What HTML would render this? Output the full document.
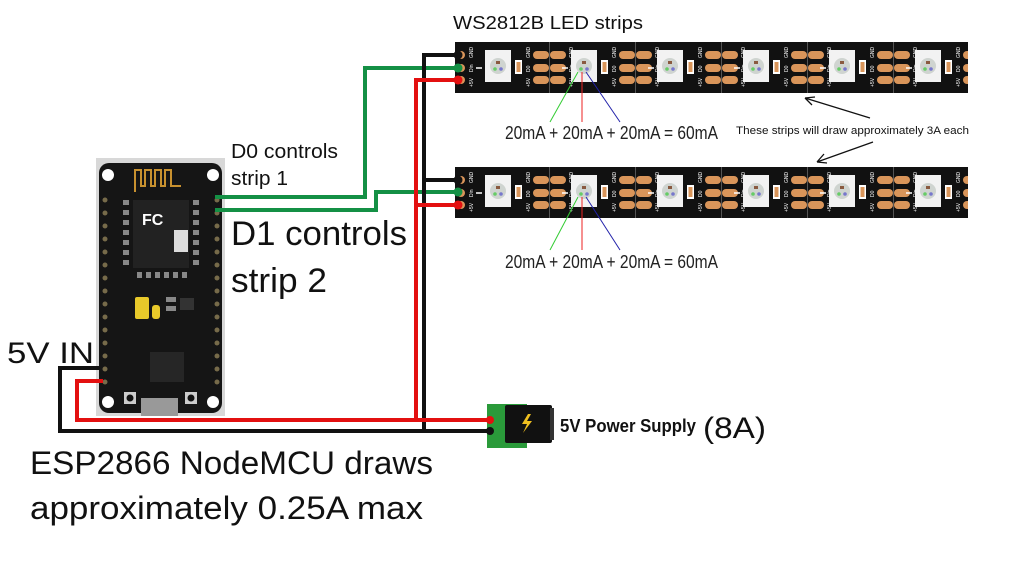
<!DOCTYPE html>
<html><head><meta charset="utf-8"><style>
body{margin:0;background:#fff;width:1009px;height:563px;overflow:hidden;font-family:"Liberation Sans",sans-serif}
</style></head><body>
<svg width="1009" height="563" xmlns="http://www.w3.org/2000/svg">
<defs>
<g id="seg">
  <rect x="30" y="8" width="26" height="32" fill="#f2f2f2"/>
  <circle cx="43" cy="24" r="8" fill="#cfd4d0"/>
  <rect x="41" y="19" width="4" height="3" fill="#8a5a40"/>
  <circle cx="40" cy="27" r="1.8" fill="#6c6"/><circle cx="46" cy="27" r="1.8" fill="#77c"/>
  <path d="M21 26 h6" stroke="#fff" stroke-width="1.5"/>
  <rect x="60" y="18" width="7" height="14" fill="#fff"/><rect x="61.5" y="20" width="4" height="10" fill="#d9955a"/>
  <text x="0" y="0" font-size="5" fill="#fff" transform="translate(75,16) rotate(-90)">GND</text>
  <text x="0" y="0" font-size="5" fill="#fff" transform="translate(75,30) rotate(-90)">D0</text>
  <text x="0" y="0" font-size="5" fill="#fff" transform="translate(75,45) rotate(-90)">+5V</text>
  <rect x="78" y="9" width="16" height="8" rx="4" fill="#d9955a"/>
  <rect x="78" y="22" width="16" height="8" rx="4" fill="#d9955a"/>
  <rect x="78" y="34" width="16" height="8" rx="4" fill="#d9955a"/>
  <rect x="95" y="9" width="16" height="8" rx="4" fill="#d9955a"/>
  <rect x="95" y="22" width="16" height="8" rx="4" fill="#d9955a"/>
  <rect x="95" y="34" width="16" height="8" rx="4" fill="#d9955a"/>
  <line x1="94.5" y1="0" x2="94.5" y2="51" stroke="#666" stroke-width="0.8"/>
  <text x="0" y="0" font-size="5" fill="#fff" transform="translate(118,16) rotate(-90)">GND</text>
  <text x="0" y="0" font-size="5" fill="#fff" transform="translate(118,30) rotate(-90)">Din</text>
  <text x="0" y="0" font-size="5" fill="#fff" transform="translate(118,45) rotate(-90)">+5V</text>
</g>
<g id="strip">
  <rect x="0" y="0" width="513" height="51" fill="#111"/>
  <circle cx="6" cy="13" r="4" fill="#d9955a"/><circle cx="6" cy="26" r="4" fill="#d9955a"/><circle cx="6" cy="38" r="4" fill="#d9955a"/>
  <text x="0" y="0" font-size="5" fill="#fff" transform="translate(18,16) rotate(-90)">GND</text>
  <text x="0" y="0" font-size="5" fill="#fff" transform="translate(18,30) rotate(-90)">Din</text>
  <text x="0" y="0" font-size="5" fill="#fff" transform="translate(18,45) rotate(-90)">+5V</text>
  <use href="#seg" x="0"/><use href="#seg" x="86"/><use href="#seg" x="172"/><use href="#seg" x="258"/><use href="#seg" x="344"/><use href="#seg" x="430"/>
</g>
</defs>

<text x="453" y="29" font-size="18" fill="#111" textLength="190" lengthAdjust="spacingAndGlyphs">WS2812B LED strips</text>
<use href="#strip" x="455" y="42"/>
<use href="#strip" x="455" y="167"/>
<rect x="968" y="40" width="41" height="180" fill="#fff"/>

<path d="M578 72 L550 122" stroke="#3c3" stroke-width="1"/><path d="M582 72 L582 122" stroke="#e22" stroke-width="1"/><path d="M586 72 L620 122" stroke="#22a" stroke-width="1"/>
<path d="M578 197 L550 250" stroke="#3c3" stroke-width="1"/><path d="M582 197 L582 250" stroke="#e22" stroke-width="1"/><path d="M586 197 L620 250" stroke="#22a" stroke-width="1"/>
<text x="505" y="139" font-size="18" fill="#222" textLength="213" lengthAdjust="spacingAndGlyphs">20mA + 20mA + 20mA = 60mA</text>
<text x="505" y="268" font-size="18" fill="#222" textLength="213" lengthAdjust="spacingAndGlyphs">20mA + 20mA + 20mA = 60mA</text>
<text x="736" y="134" font-size="11" fill="#111" textLength="233" lengthAdjust="spacingAndGlyphs">These strips will draw approximately 3A each</text>
<path d="M870 118 L805 98 M805 98 l10 -1 M805 98 l7 7" stroke="#111" stroke-width="1.3" fill="none"/>
<path d="M873 142 L817 162 M817 162 l7 -8 M817 162 l10 1" stroke="#111" stroke-width="1.3" fill="none"/>

<rect x="96" y="158" width="129" height="258" fill="#d8d8d8"/>
<rect x="99" y="163" width="123" height="250" rx="10" fill="#151515"/>
<circle cx="108" cy="175" r="6" fill="#fff"/><circle cx="213" cy="175" r="6" fill="#fff"/>
<circle cx="108" cy="402" r="6" fill="#fff"/><circle cx="213" cy="402" r="6" fill="#fff"/>
<path d="M135 192 v-22 h6 v16 h4 v-16 h6 v16 h4 v-16 h6 v16 h4 v-16 h6 v16 h10" stroke="#c8912f" stroke-width="2" fill="none"/>
<rect x="133" y="200" width="56" height="68" fill="#222"/>
<text x="142" y="225" font-size="16" font-weight="bold" fill="#fff">FC</text>
<rect x="174" y="230" width="14" height="22" fill="#ddd"/>
<g fill="#888">
<rect x="123" y="200" width="6" height="5"/><rect x="123" y="210" width="6" height="5"/><rect x="123" y="220" width="6" height="5"/><rect x="123" y="230" width="6" height="5"/><rect x="123" y="240" width="6" height="5"/><rect x="123" y="250" width="6" height="5"/><rect x="123" y="260" width="6" height="5"/>
<rect x="193" y="200" width="6" height="5"/><rect x="193" y="210" width="6" height="5"/><rect x="193" y="220" width="6" height="5"/><rect x="193" y="230" width="6" height="5"/><rect x="193" y="240" width="6" height="5"/><rect x="193" y="250" width="6" height="5"/><rect x="193" y="260" width="6" height="5"/>
<rect x="137" y="272" width="5" height="6"/><rect x="146" y="272" width="5" height="6"/><rect x="155" y="272" width="5" height="6"/><rect x="164" y="272" width="5" height="6"/><rect x="173" y="272" width="5" height="6"/><rect x="182" y="272" width="5" height="6"/>
</g>
<g fill="#776b4a">
<circle cx="105" cy="200" r="2.5"/><circle cx="105" cy="213" r="2.5"/><circle cx="105" cy="226" r="2.5"/><circle cx="105" cy="239" r="2.5"/><circle cx="105" cy="252" r="2.5"/><circle cx="105" cy="265" r="2.5"/><circle cx="105" cy="278" r="2.5"/><circle cx="105" cy="291" r="2.5"/><circle cx="105" cy="304" r="2.5"/><circle cx="105" cy="317" r="2.5"/><circle cx="105" cy="330" r="2.5"/><circle cx="105" cy="343" r="2.5"/><circle cx="105" cy="356" r="2.5"/><circle cx="105" cy="369" r="2.5"/><circle cx="105" cy="382" r="2.5"/>
<circle cx="217" cy="200" r="2.5"/><circle cx="217" cy="213" r="2.5"/><circle cx="217" cy="226" r="2.5"/><circle cx="217" cy="239" r="2.5"/><circle cx="217" cy="252" r="2.5"/><circle cx="217" cy="265" r="2.5"/><circle cx="217" cy="278" r="2.5"/><circle cx="217" cy="291" r="2.5"/><circle cx="217" cy="304" r="2.5"/><circle cx="217" cy="317" r="2.5"/><circle cx="217" cy="330" r="2.5"/><circle cx="217" cy="343" r="2.5"/><circle cx="217" cy="356" r="2.5"/><circle cx="217" cy="369" r="2.5"/><circle cx="217" cy="382" r="2.5"/>
</g>
<rect x="135" y="297" width="14" height="22" rx="2" fill="#e8c92a"/><rect x="152" y="305" width="8" height="14" rx="3" fill="#e8c92a"/>
<rect x="166" y="297" width="10" height="5" fill="#888"/><rect x="166" y="306" width="10" height="5" fill="#888"/><rect x="180" y="298" width="14" height="12" fill="#333"/>
<rect x="150" y="352" width="34" height="30" fill="#262626"/>
<rect x="124" y="392" width="12" height="12" fill="#ccc"/><circle cx="130" cy="398" r="3.5" fill="#111"/>
<rect x="185" y="392" width="12" height="12" fill="#ccc"/><circle cx="191" cy="398" r="3.5" fill="#111"/>
<rect x="141" y="398" width="37" height="18" fill="#999"/>

<g fill="none" stroke-width="4">
<path d="M215 197 H365 V68 H457" stroke="#149045"/>
<path d="M215 210 H376 V192 H457" stroke="#149045"/>
<path d="M457 55 H424 V431 M424 180 H457" stroke="#111"/>
<path d="M457 80 H416 V420 M416 205 H457" stroke="#e31010"/>
<path d="M103 381 H77 V420 H490" stroke="#e31010"/>
<path d="M60 368 H100 M60 366 V431 H490" stroke="#111"/>
</g>
<g>
<circle cx="458" cy="55" r="4.5" fill="#111"/><circle cx="458" cy="68" r="4.5" fill="#149045"/><circle cx="458" cy="80" r="4.5" fill="#e31010"/>
<circle cx="458" cy="180" r="4.5" fill="#111"/><circle cx="458" cy="192" r="4.5" fill="#149045"/><circle cx="458" cy="205" r="4.5" fill="#e31010"/>
</g>

<rect x="487" y="404" width="40" height="44" fill="#2a9a3a"/>
<rect x="505" y="405" width="47" height="38" rx="2" fill="#111"/>
<rect x="550" y="408" width="4" height="32" fill="#333"/>
<path d="M528 414 l-6 10 h5 l-4 9 l9 -12 h-5 l4 -7z" fill="#f0c020"/>
<circle cx="490" cy="420" r="4" fill="#e31010"/><circle cx="490" cy="431" r="4" fill="#111"/>
<text x="560" y="432" font-size="18" font-weight="bold" fill="#111" textLength="136" lengthAdjust="spacingAndGlyphs">5V Power Supply</text>
<text x="703" y="438" font-size="30" fill="#111" textLength="63" lengthAdjust="spacingAndGlyphs">(8A)</text>

<text x="231" y="158" font-size="20" fill="#111" textLength="107" lengthAdjust="spacingAndGlyphs">D0 controls</text>
<text x="231" y="185" font-size="20" fill="#111" textLength="57" lengthAdjust="spacingAndGlyphs">strip 1</text>
<text x="231" y="245" font-size="34" fill="#111" textLength="176" lengthAdjust="spacingAndGlyphs">D1 controls</text>
<text x="231" y="292" font-size="34" fill="#111" textLength="96" lengthAdjust="spacingAndGlyphs">strip 2</text>
<text x="7" y="363" font-size="30" fill="#111" textLength="87" lengthAdjust="spacingAndGlyphs">5V IN</text>
<text x="30" y="474" font-size="32" fill="#111" textLength="403" lengthAdjust="spacingAndGlyphs">ESP2866 NodeMCU draws</text>
<text x="30" y="519" font-size="32" fill="#111" textLength="393" lengthAdjust="spacingAndGlyphs">approximately 0.25A max</text>
</svg>
</body></html>
